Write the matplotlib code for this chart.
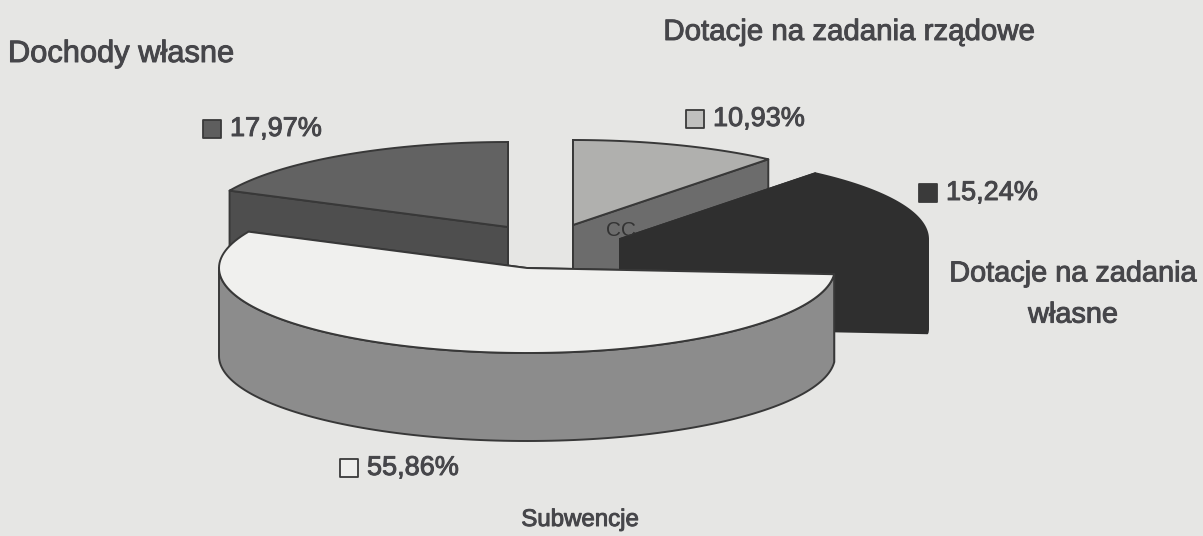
import numpy as np
import matplotlib
matplotlib.use('Agg')
import matplotlib.pyplot as plt
import matplotlib.patheffects as pe

# shares in percent, clockwise from 12 o'clock
categories = ['Dotacje na zadania rządowe', 'Dotacje na zadania\nwłasne', 'Subwencje', 'Dochody własne']
shares = [10.93, 15.24, 55.86, 17.97]

# layout, in image pixels
RX = 308
RY = 85
DEPTH = 88
centers = [(573, 225), (620, 239), (527, 268), (508, 227)]
top_colors = ['#b0b0ae', '#2f2f2f', '#f0f0ee', '#626262']
cut_colors = ['#6c6c6c', '#2f2f2f', '#8c8c8c', '#4e4e4e']
wall_colors = ['#6c6c6c', '#2f2f2f', '#8c8c8c', '#4e4e4e']
edge_colors = ['#383838', '#2f2f2f', '#383838', '#383838']
draw_order = [3, 0, 1, 2]
name_pos = [(849, 32), (1073, 294), (580, 520), (121, 54)]
name_sizes = [21.2, 20.8, 17.3, 22.2]
pct_pos = [(695, 119), (928, 193), (349, 468), (212, 129)]
key_colors = ['#c0c0be', '#3a3a3a', '#eeeeec', '#5e5e5e']

BG = '#e6e6e4'
TEXT = '#46464a'
FONT = ['Liberation Sans', 'DejaVu Sans']
THICKEN = [pe.withStroke(linewidth=0.7, foreground=TEXT)]


def arc_points(center, a0, a1):
    t = np.radians(np.linspace(a0, a1, 120))
    return np.column_stack([center[0] + RX * np.sin(t), center[1] - RY * np.cos(t)])


def draw_slice(ax, center, a0, a1, top, cut, wall, edge):
    arc = arc_points(center, a0, a1)
    apex = np.array(center, dtype=float)
    down = np.array([0, DEPTH])

    # cut faces first, the top and outer wall paint over the hidden ones
    for end in (arc[0], arc[-1]):
        quad = np.array([apex, end, end + down, apex + down])
        ax.fill(quad[:, 0], quad[:, 1], facecolor=cut, edgecolor=edge, linewidth=1.4, joinstyle='round')

    # outer wall only faces the viewer between 90 and 270 degrees
    w0, w1 = max(a0, 90), min(a1, 270)
    if w0 < w1:
        w = arc_points(center, w0, w1)
        outline = np.vstack([w, (w + down)[::-1]])
        ax.fill(outline[:, 0], outline[:, 1], facecolor=wall, edgecolor=edge, linewidth=1.4, joinstyle='round')

    poly = np.vstack([apex, arc])
    ax.fill(poly[:, 0], poly[:, 1], facecolor=top, edgecolor=edge, linewidth=1.4, joinstyle='round')


fig = plt.figure(figsize=(12.03, 5.36), dpi=100, facecolor=BG)
ax = fig.add_axes([0, 0, 1, 1])
ax.set_xlim(0, 1203)
ax.set_ylim(536, 0)
ax.axis('off')

edges = np.concatenate([[0], np.cumsum(shares)]) / sum(shares) * 360
for i in draw_order:
    draw_slice(ax, centers[i], edges[i], edges[i + 1], top_colors[i], cut_colors[i], wall_colors[i], edge_colors[i])
    if i == 0:
        # stray letters left on the scan, half hidden by the black slice
        ax.text(606, 231, 'CC', fontsize=15, color='#333333', family=FONT, va='center')

for i, cat in enumerate(categories):
    x, y = name_pos[i]
    ax.text(x, y, cat, fontsize=name_sizes[i], color=TEXT, family=FONT, ha='center', va='center',
            linespacing=1.6, path_effects=THICKEN)
    px, py = pct_pos[i]
    ax.scatter([px], [py], marker='s', s=170, facecolor=key_colors[i], edgecolor='#3a3a3a', linewidth=1.3)
    ax.text(px + 18, py, f'{shares[i]:.2f}%'.replace('.', ','), fontsize=19.5, color=TEXT,
            family=FONT, ha='left', va='center', path_effects=THICKEN)

fig.savefig('out.png', dpi=100, facecolor=BG)
